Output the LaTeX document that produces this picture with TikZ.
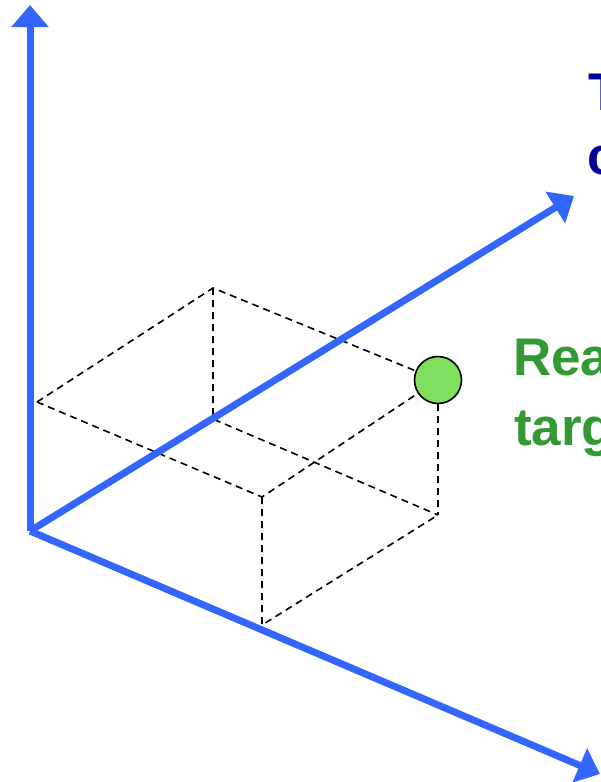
\documentclass[tikz,border=0pt]{standalone}
\usepackage{fontspec}
\setmainfont{Liberation Sans}
\usetikzlibrary{arrows.meta}
\definecolor{axisblue}{RGB}{51,102,255}
\definecolor{labelnavy}{RGB}{0,0,153}
\definecolor{labelgreen}{RGB}{51,153,51}
\definecolor{dotgreen}{RGB}{126,224,94}
\tikzset{
  axis/.style={draw=axisblue, line width=7pt,
    -{Triangle[width=36pt,length=22pt]}},
  guide/.style={draw=black, line width=1.6pt, dash pattern=on 7pt off 5pt},
  target/.style={circle, draw=black, line width=1.6pt, fill=dotgreen,
    minimum size=47pt, inner sep=0pt},
  caption/.style={anchor=base west, inner sep=0pt,
    font=\fontsize{53}{64}\selectfont\bfseries},
}
\begin{document}
\begin{tikzpicture}[x=1pt,y=-1pt]
  \useasboundingbox (0,0) rectangle (600,782);
  \clip (0,0) rectangle (600,782);

  % corners of the box spanned by the point
  \coordinate (B)  at (213,288);
  \coordinate (L)  at (37,402);
  \coordinate (F)  at (262,497);
  \coordinate (C)  at (438,380);
  \coordinate (Bg) at (213,419);
  \coordinate (Cg) at (438,515);
  \coordinate (Fg) at (262,625);

  % axes
  \coordinate (O)    at (30,531);
  \coordinate (Ztip) at (30,5);
  \coordinate (Ytip) at (574,196);
  \coordinate (Xtip) at (600,774);

  % dashed projection lines
  \draw[guide] (L) -- (B) -- (C);
  \draw[guide] (L) -- (F) -- (C);
  \draw[guide] (B) -- (Bg) -- (Cg);
  \draw[guide] (F) -- (Fg) -- (Cg);
  \draw[guide] (C) -- (Cg);

  % coordinate axes
  \draw[axis] (O) -- (Ztip);
  \draw[axis] (O) -- (Ytip);
  \draw[axis] (O) -- (Xtip);

  % the target point
  \node[target] (pt) at (C) {};

  % labels
  \node[caption, text=labelnavy] (t1) at (588,110) {T};
  \node[caption, text=labelnavy] (t2) at (587,174) {c};
  \node[caption, text=labelgreen] (g1) at (513,375) {Real};
  \node[caption, text=labelgreen] (g2) at (514,445) {target};
\end{tikzpicture}
\end{document}
